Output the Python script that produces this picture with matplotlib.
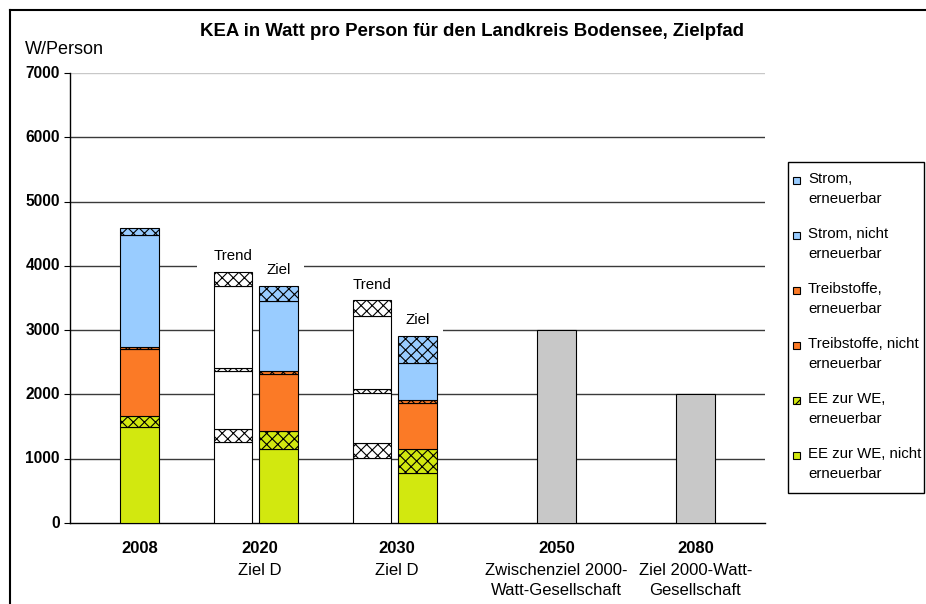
import matplotlib
matplotlib.use("Agg")
import matplotlib.pyplot as plt
from matplotlib.patches import Rectangle
from matplotlib.lines import Line2D
import numpy as np

plt.rcParams['font.family'] = ['Liberation Sans', 'DejaVu Sans']
plt.rcParams['hatch.linewidth'] = 0.8

# ---------------- data ----------------
categories = ["2008", "2020", "2030", "2050", "2080"]
category_sub = ["", "Ziel D", "Ziel D",
                "Zwischenziel 2000-\nWatt-Gesellschaft",
                "Ziel 2000-Watt-\nGesellschaft"]

series_labels = ["EE zur WE, nicht\nerneuerbar", "EE zur WE,\nerneuerbar",
                 "Treibstoffe, nicht\nerneuerbar", "Treibstoffe,\nerneuerbar",
                 "Strom, nicht\nerneuerbar", "Strom,\nerneuerbar"]

# "Ziel" / actual stacked bars: 2008, 2020 Ziel D, 2030 Ziel D
stack_cat = [0, 1, 2]
ee_nicht = [1490, 1146, 773]
ee_ern = [178, 285, 378]
treib_nicht = [1035, 887, 711]
treib_ern = [30, 52, 51]
strom_nicht = [1747, 1077, 581]
strom_ern = [105, 244, 420]

# Trend bars 2020, 2030
trend_cat = [1, 2]
trend_ee_nicht = [1255, 1016]
trend_ee_ern = [200, 224]
trend_treib_nicht = [909, 777]
trend_treib_ern = [42, 67]
trend_strom_nicht = [1285, 1141]
trend_strom_ern = [218, 243]

# targets 2050 / 2080
target_cat = [3, 4]
target_values = [3000, 2000]

y_ticks = [0, 1000, 2000, 3000, 4000, 5000, 6000, 7000]

# ---------------- style / layout ----------------
W, H = 926, 604
colors = ["#D2E80F", "#D2E80F", "#FB7A26", "#FB7A26", "#99CCFF", "#99CCFF"]
hatches = [None, "xxx", None, "xxx", None, "xxx"]
bar_w = 0.275
trend_shift = -0.33
label_shift = [0.0, -0.135, -0.15, 0.0, 0.0]

fig = plt.figure(figsize=(W / 100, H / 100), dpi=100)
ax = fig.add_axes([70 / W, 81 / H, 695 / W, 450 / H])
ax.set_xlim(-0.5, 4.5)
ax.set_ylim(0, 7000)

# gridlines and y tick labels
ax.set_yticks(y_ticks)
ax.set_yticklabels([])
ax.yaxis.grid(True, color="#3a3a3a", linewidth=1.0, zorder=0)
ax.set_axisbelow(True)
ax.get_ygridlines()[-1].set_color("#c8c8c8")
ax.get_ygridlines()[0].set_visible(False)
for v in y_ticks:
    ax.annotate(str(v), (0, v), xycoords=("axes fraction", "data"), xytext=(-7.3, 0),
                textcoords="offset points", ha="right", va="center",
                fontsize=11.2, fontweight="bold")

# white boxes behind the Trend/Ziel labels (cover gridlines)
px2x = lambda p: (p - 70) / 139.0 - 0.5
ax.add_patch(Rectangle((px2x(197), 3880), px2x(304) - px2x(197), 240,
                       facecolor="white", edgecolor="none", zorder=1))
ax.add_patch(Rectangle((px2x(390), 2880), px2x(443) - px2x(390), 240,
                       facecolor="white", edgecolor="none", zorder=1))

# stacked bars
stack_series = [ee_nicht, ee_ern, treib_nicht, treib_ern, strom_nicht, strom_ern]
bottom = np.zeros(len(stack_cat))
for vals, c, h in zip(stack_series, colors, hatches):
    ax.bar(stack_cat, vals, bar_w, bottom=bottom, color=c, edgecolor="black",
           linewidth=0.8, hatch=h, zorder=3)
    bottom += np.array(vals)
stack_tops = bottom.copy()

trend_series = [trend_ee_nicht, trend_ee_ern, trend_treib_nicht, trend_treib_ern,
                trend_strom_nicht, trend_strom_ern]
tx = np.array(trend_cat) + trend_shift
bottom = np.zeros(len(trend_cat))
for vals, h in zip(trend_series, hatches):
    ax.bar(tx, vals, bar_w, bottom=bottom, color="white", edgecolor="black",
           linewidth=0.8, hatch=h, zorder=3)
    bottom += np.array(vals)
trend_tops = bottom.copy()

ax.bar(target_cat, target_values, bar_w, color="#C8C8C8", edgecolor="black",
       linewidth=0.8, zorder=3)

# Trend / Ziel labels
for x, top in zip(tx, trend_tops):
    ax.annotate("Trend", (x, top), xytext=(0, 11), textcoords="offset points",
                ha="center", va="center", fontsize=10.8, zorder=5)
for ci, top in zip(stack_cat[1:], stack_tops[1:]):
    ax.annotate("Ziel", (ci, top), xytext=(0, 11), textcoords="offset points",
                ha="center", va="center", fontsize=10.8, zorder=5)

# axes styling
for s in ["top", "right"]:
    ax.spines[s].set_visible(False)
ax.spines["left"].set_linewidth(1.0)
ax.spines["bottom"].set_linewidth(1.0)
ax.tick_params(axis="y", length=4.3, width=0.8, pad=3)
ax.set_xticks([])

for i, (cat, sub) in enumerate(zip(categories, category_sub)):
    x = i + label_shift[i]
    ax.annotate(cat, (x, 0), xycoords=("data", "axes fraction"), xytext=(0, -13),
                textcoords="offset points", ha="center", va="top",
                fontsize=12, fontweight="bold")
    if sub:
        ax.annotate(sub, (x, 0), xycoords=("data", "axes fraction"), xytext=(0, -29),
                    textcoords="offset points", ha="center", va="top",
                    fontsize=12, linespacing=1.42)

# title and unit
fig.text(472 / W, 1 - 32 / H, "KEA in Watt pro Person für den Landkreis Bodensee, Zielpfad",
         ha="center", va="center", fontsize=13.4, fontweight="bold")
fig.text(25 / W, 1 - 50 / H, "W/Person", ha="left", va="center", fontsize=13)

# manual legend
fig.patches.append(Rectangle((788 / W, 1 - 493 / H), (924 - 788) / W, (493 - 162) / H,
                             transform=fig.transFigure, facecolor="white",
                             edgecolor="black", linewidth=1.0))
for k, idx in enumerate(range(5, -1, -1)):
    yc = 180 + 55 * k
    fig.patches.append(Rectangle((793 / W, 1 - (yc + 3.5) / H), 7 / W, 7 / H,
                                 transform=fig.transFigure, facecolor=colors[idx],
                                 edgecolor="black", linewidth=0.8,
                                 hatch=("/" if hatches[idx] else None)))
    fig.text(808 / W, 1 - (yc - 8) / H, series_labels[idx], ha="left", va="top",
             fontsize=10.8, linespacing=1.55)

# outer frame
fig.lines.append(Line2D([10 / W, 1], [1 - 10 / H, 1 - 10 / H], transform=fig.transFigure,
                        color="black", linewidth=1.5))
fig.lines.append(Line2D([10 / W, 10 / W], [0, 1 - 10 / H], transform=fig.transFigure,
                        color="black", linewidth=1.5))

fig.savefig("out.png", dpi=100)
